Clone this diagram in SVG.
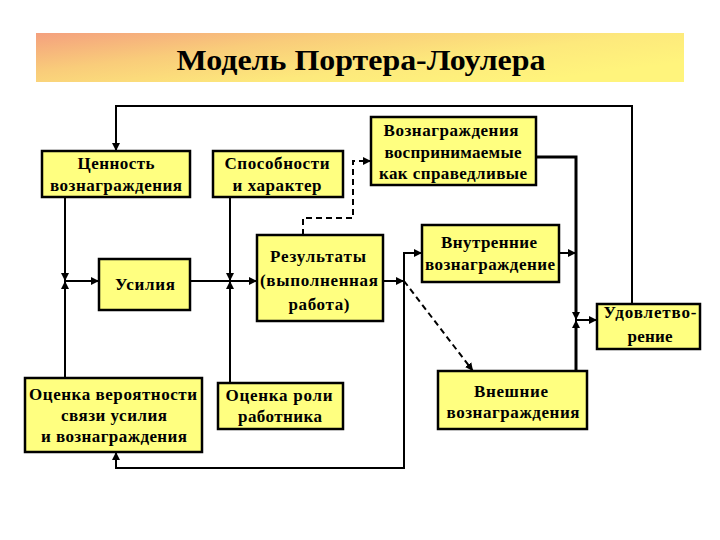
<svg xmlns="http://www.w3.org/2000/svg" width="720" height="540" viewBox="0 0 720 540">
<defs>
<linearGradient id="banner" x1="0" y1="0" x2="1" y2="0.6">
<stop offset="0" stop-color="#f4a07e"/>
<stop offset="0.35" stop-color="#f9cc7a"/>
<stop offset="0.7" stop-color="#fde97c"/>
<stop offset="1" stop-color="#fff47c"/>
</linearGradient>
<marker id="ah" viewBox="0 0 10 10" refX="10" refY="5" markerWidth="4" markerHeight="4" orient="auto" markerUnits="strokeWidth">
<path d="M0,0 L10,5 L0,10 z" fill="#000"/>
</marker>
<style>
.box{fill:#ffff80;stroke:#000;stroke-width:2.5}
.t{font-family:'Liberation Serif','DejaVu Serif','Times New Roman',serif;font-weight:bold;font-size:17px;fill:#000;text-anchor:middle}
.ttl{font-family:'Liberation Serif','DejaVu Serif','Times New Roman',serif;font-weight:bold;font-size:30px;fill:#000;text-anchor:middle}
.ln{fill:none;stroke:#000;stroke-width:2}
.thick{fill:none;stroke:#000;stroke-width:3}
.ds{fill:none;stroke:#000;stroke-width:2;stroke-dasharray:6,4}
.ar{marker-end:url(#ah)}
</style>
</defs>
<rect width="720" height="540" fill="#fff"/>
<g id="title">
<rect x="36" y="33" width="648" height="49" fill="url(#banner)"/>
<text class="ttl" x="361" y="70" textLength="369" lengthAdjust="spacingAndGlyphs">Модель Портера-Лоулера</text>
</g>
<g id="connectors">
<path class="ln ar" d="M632,304 V106 H116 V151"/>
<path class="ln ar" d="M65,197 V281"/>
<path class="ln ar" d="M65,378 V281"/>
<path class="ln ar" d="M65,281 H99"/>
<path class="ln ar" d="M230,197 V281"/>
<path class="ln ar" d="M230,383 V281"/>
<path class="ln" d="M190,281 H230"/>
<path class="ln ar" d="M230,281 H257"/>
<path class="ds ar" d="M303,235 V218 H353 V161 H371"/>
<path class="ln ar" d="M383,281 H404"/>
<path class="ln ar" d="M404,281 V253 H422"/>
<path class="ln ar" d="M404,281 V468 H116 V452"/>
<path class="ds ar" d="M404,281 L473,371"/>
<path class="ln ar" d="M559,253 H576"/>
<path class="thick" d="M536,157 H576 V314"/>
<path class="ln ar" d="M576,300 V320"/>
<path class="thick" d="M576,371 V326"/>
<path class="ln ar" d="M576,340 V320"/>
<path class="ln ar" d="M576,320 H597"/>
</g>
<g id="n-cennost">
<rect class="box" x="42" y="151" width="148" height="46"/>
<text class="t" x="116" y="169" textLength="77">Ценность</text>
<text class="t" x="116" y="191" textLength="132">вознаграждения</text>
</g>
<g id="n-sposobnosti">
<rect class="box" x="213" y="151" width="130" height="46"/>
<text class="t" x="277" y="169" textLength="105">Способности</text>
<text class="t" x="277" y="191" textLength="89">и характер</text>
</g>
<g id="n-usilia">
<rect class="box" x="99" y="259" width="91" height="51"/>
<text class="t" x="145" y="290" textLength="60">Усилия</text>
</g>
<g id="n-rezultaty">
<rect class="box" x="257" y="235" width="126" height="86"/>
<text class="t" x="318" y="262" textLength="96">Результаты</text>
<text class="t" x="319" y="286" textLength="118">(выполненная</text>
<text class="t" x="319" y="310" textLength="61">работа)</text>
</g>
<g id="n-spravedlivye">
<rect class="box" x="371" y="117" width="165" height="68"/>
<text class="t" x="451" y="136" textLength="135">Вознаграждения</text>
<text class="t" x="453" y="158" textLength="137">воспринимаемые</text>
<text class="t" x="453" y="179" textLength="148">как справедливые</text>
</g>
<g id="n-vnutrennie">
<rect class="box" x="422" y="225" width="137" height="57"/>
<text class="t" x="489" y="248" textLength="96">Внутренние</text>
<text class="t" x="490" y="270" textLength="130">вознаграждение</text>
</g>
<g id="n-udovletvorenie">
<rect class="box" x="597" y="304" width="103" height="45"/>
<text class="t" x="650" y="318" textLength="93">Удовлетво-</text>
<text class="t" x="650" y="342" textLength="45">рение</text>
</g>
<g id="n-ocenka-veroyatnosti">
<rect class="box" x="25" y="378" width="177" height="74"/>
<text class="t" x="113" y="400" textLength="168">Оценка вероятности</text>
<text class="t" x="114" y="421" textLength="106">связи усилия</text>
<text class="t" x="114" y="442" textLength="146">и вознаграждения</text>
</g>
<g id="n-ocenka-roli">
<rect class="box" x="218" y="383" width="125" height="46"/>
<text class="t" x="279" y="401" textLength="107">Оценка роли</text>
<text class="t" x="280" y="422" textLength="84">работника</text>
</g>
<g id="n-vneshnie">
<rect class="box" x="438" y="371" width="149" height="58"/>
<text class="t" x="511" y="397" textLength="74">Внешние</text>
<text class="t" x="513" y="418" textLength="133">вознаграждения</text>
</g>
</svg>
